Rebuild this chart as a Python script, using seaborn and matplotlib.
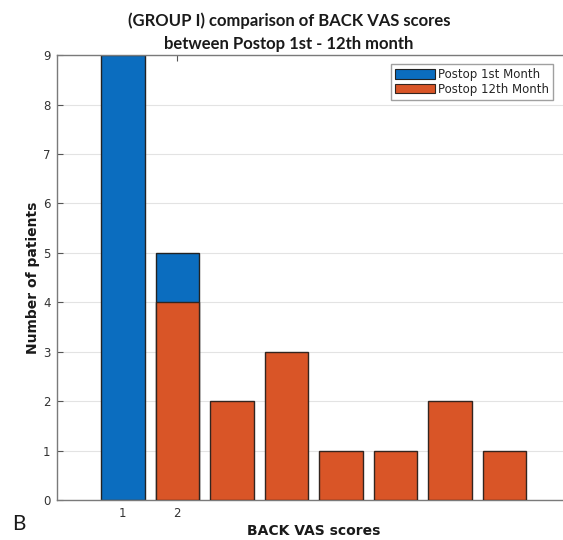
import matplotlib
matplotlib.use("Agg")
import matplotlib.pyplot as plt
import seaborn as sns
import pandas as pd
from matplotlib.patches import Patch

# Data
month1_scores = [1, 2]
month1_counts = [9, 5]
month12_scores = [2, 3, 4, 5, 6, 7, 8]
month12_counts = [4, 2, 3, 1, 1, 2, 1]
xtick_vals = [1, 2]
series_names = ["Postop 1st Month", "Postop 12th Month"]

blue = "#0B6DBF"
orange = "#D95527"

sns.set_theme(style="white")
plt.rcParams['font.family'] = ['DejaVu Sans']

fig = plt.figure(figsize=(5.63, 5.40), dpi=100)
ax = fig.add_axes([0.102, 0.074, 0.91, 0.824])

df1 = pd.DataFrame({"score": month1_scores, "count": month1_counts})
df12 = pd.DataFrame({"score": month12_scores, "count": month12_counts})

sns.barplot(data=df1, x="score", y="count", native_scale=True, width=0.8,
            color=blue, saturation=1, edgecolor="#222222", linewidth=1.0, ax=ax, zorder=2)
sns.barplot(data=df12, x="score", y="count", native_scale=True, width=0.8,
            color=orange, saturation=1, edgecolor="#33251f", linewidth=1.0, ax=ax, zorder=3)

ax.set_xlim(-0.2, 9.2)
ax.set_ylim(0, 9)
ax.set_yticks(range(0, 10))
ax.set_xticks(xtick_vals)
ax.set_xticklabels([str(v) for v in xtick_vals])
ax.yaxis.grid(True, color="#e3e3e3", linewidth=0.8, zorder=0)
ax.xaxis.grid(False)
ax.set_axisbelow(True)

for s in ax.spines.values():
    s.set_visible(True)
    s.set_color("#7a7a7a")
    s.set_linewidth(1.0)

ax.tick_params(axis="both", direction="in", length=4, width=0.8, color="#555555",
               labelsize=8.5, labelcolor="#333333", top=True, right=True,
               bottom=True, left=True, pad=5)

ax.set_xlabel("BACK VAS scores", fontsize=10, fontweight="bold", color="#1a1a1a", labelpad=3)
ax.set_ylabel("Number of patients", fontsize=10, fontweight="bold", color="#1a1a1a", labelpad=2)

fig.text(0.513, 0.961, "(GROUP I) comparison of BACK VAS scores", ha="center", va="center",
         fontsize=12, family="Lato", fontweight="bold", color="#1a1a1a")
fig.text(0.513, 0.919, "between Postop 1st - 12th month", ha="center", va="center",
         fontsize=12, family="Lato", fontweight="bold", color="#1a1a1a")
fig.text(0.022, 0.030, "B", ha="left", va="center", fontsize=15, family="Lato", color="#1a1a1a")

handles = [Patch(facecolor=blue, edgecolor="#222222", linewidth=0.8),
           Patch(facecolor=orange, edgecolor="#33251f", linewidth=0.8)]
leg = ax.legend(handles, series_names, loc="upper right", bbox_to_anchor=(0.968, 0.98),
                fontsize=8.5, frameon=True, fancybox=False, handlelength=3.4, handleheight=0.85,
                handletextpad=0.25, borderpad=0.35, labelspacing=0.12, borderaxespad=0)
leg.get_frame().set_edgecolor("#888888")
leg.get_frame().set_linewidth(1.0)

fig.savefig("out.png", dpi=100)
